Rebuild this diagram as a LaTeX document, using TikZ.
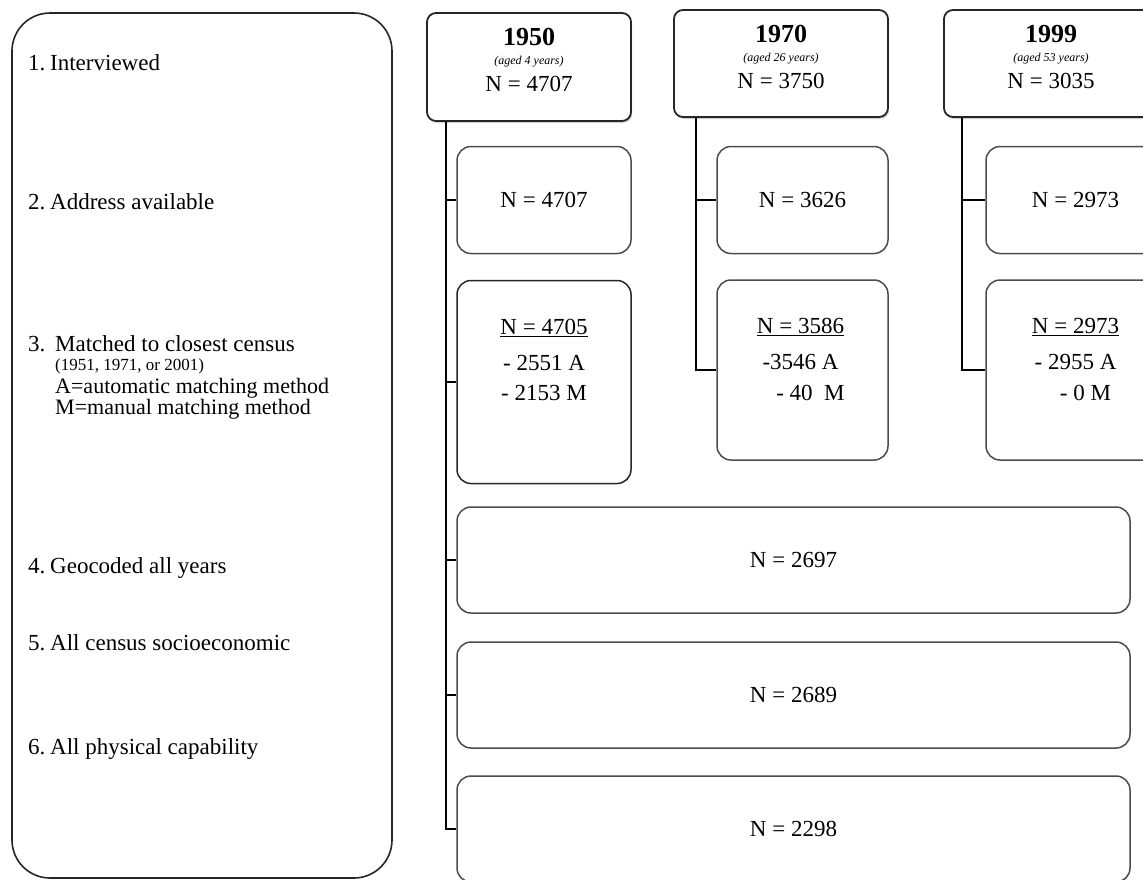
\documentclass[tikz,border=0pt]{standalone}
\usepackage{fontspec}
\setmainfont{Liberation Serif}
\usetikzlibrary{shadows}
\begin{document}
\begin{tikzpicture}[x=1pt,y=1pt,
  panel/.style={draw=black!85, line width=1.6pt, rounded corners=38pt, inner sep=0pt},
  hbox/.style={draw=black!85, fill=white, line width=1.8pt, rounded corners=9pt, inner sep=0pt,
    drop shadow={shadow xshift=1.2pt, shadow yshift=-2pt, fill=black!35}},
  sbox/.style={draw=black!70, fill=white, line width=1.5pt, rounded corners=14pt, inner sep=0pt},
  link/.style={draw=black, line width=1.8pt},
  lab/.style={anchor=west, inner sep=0pt, font=\fontsize{23}{24}\selectfont},
  sublab/.style={anchor=west, inner sep=0pt, font=\fontsize{22}{23}\selectfont},
  tinylab/.style={anchor=west, inner sep=0pt, font=\fontsize{17}{18}\selectfont},
  yr/.style={inner sep=0pt, font=\fontsize{26}{28}\selectfont\bfseries},
  age/.style={inner sep=0pt, font=\fontsize{12}{13}\selectfont\itshape},
  num/.style={inner sep=0pt, font=\fontsize{23}{25}\selectfont},
]
\useasboundingbox (0,0) rectangle (1143,-879);

% left panel
\node[panel, minimum width=380pt, minimum height=865pt] (panel) at (202,-445.5) {};
\node[lab] (l1) at (28,-63) {\makebox[22pt][l]{1.}Interviewed};
\node[lab] (l2) at (28,-202) {\makebox[22pt][l]{2.}Address available};
\node[lab] (l3) at (28,-344) {\makebox[27pt][l]{3.}Matched to closest census};
\node[tinylab] (l3a) at (55,-366) {(1951, 1971, or 2001)};
\node[sublab] (l3b) at (55,-388) {A=automatic matching method};
\node[sublab] (l3c) at (55,-409) {M=manual matching method};
\node[lab] (l4) at (28,-568) {\makebox[22pt][l]{4.}Geocoded all years};
\node[lab] (l5) at (28,-643) {\makebox[22pt][l]{5.}All census socioeconomic};
\node[lab] (l6) at (28,-749) {\makebox[22pt][l]{6.}All physical capability};

% header boxes
\node[hbox, minimum width=204pt, minimum height=108pt] (h1950) at (529,-67) {};
\node[hbox, minimum width=214pt, minimum height=107pt] (h1970) at (781,-63.5) {};
\node[hbox, minimum width=214pt, minimum height=107pt] (h1999) at (1051,-63.5) {};
\foreach \b/\y/\a/\n in {h1950/1950/aged 4 years/4707, h1970/1970/aged 26 years/3750, h1999/1999/aged 53 years/3035}{
  \node[yr]  (\b-y) at ([yshift=-25pt]\b.north) {\y};
  \node[age] (\b-a) at ([yshift=-50pt]\b.north) {(\a)};
  \node[num] (\b-n) at ([yshift=-72pt]\b.north) {N = \n};
}

% row 2
\node[sbox, minimum width=174pt, minimum height=107pt] (r2a) at (544,-200) {};
\node[sbox, minimum width=171pt, minimum height=107pt] (r2b) at (802.5,-200) {};
\node[sbox, minimum width=171pt, minimum height=107pt] (r2c) at (1071.5,-200) {};
\node[num] at (r2a) {N = 4707};
\node[num] at (r2b) {N = 3626};
\node[num] at ([xshift=4pt]r2c.center) {N = 2973};

% row 3
\node[sbox, draw=black!85, minimum width=174pt, minimum height=203pt] (r3a) at (544,-382) {};
\node[sbox, minimum width=171pt, minimum height=180pt] (r3b) at (802.5,-370) {};
\node[sbox, minimum width=171pt, minimum height=180pt] (r3c) at (1071.5,-370) {};
\node[num] (r3a-n) at ([yshift=-48pt]r3a.north) {\underline{N = 4705}};
\node[num] (r3a-a) at ([yshift=-83pt]r3a.north) {- 2551 A};
\node[num] (r3a-m) at ([yshift=-113pt]r3a.north) {- 2153 M};
\node[num] (r3b-n) at ([xshift=-2pt,yshift=-48pt]r3b.north) {\underline{N = 3586}};
\node[num] (r3b-a) at ([xshift=-2pt,yshift=-83pt]r3b.north) {-3546 A};
\node[num] (r3b-m) at ([xshift=8pt,yshift=-114pt]r3b.north) {- 40\enspace M};
\node[num] (r3c-n) at ([xshift=4pt,yshift=-48pt]r3c.north) {\underline{N = 2973}};
\node[num] (r3c-a) at ([xshift=4pt,yshift=-83pt]r3c.north) {- 2955 A};
\node[num] (r3c-m) at ([xshift=14pt,yshift=-114pt]r3c.north) {- 0 M};

% rows 4-6
\node[sbox, minimum width=673pt, minimum height=106pt] (r4) at (793.5,-560) {};
\node[sbox, minimum width=673pt, minimum height=106pt] (r5) at (793.5,-695) {};
\node[sbox, minimum width=673pt, minimum height=106pt] (r6) at (793.5,-829) {};
\node[num] at (r4) {N = 2697};
\node[num] at (r5) {N = 2689};
\node[num] at (r6) {N = 2298};

% connectors
\coordinate (t1) at ([xshift=20pt]h1950.south west);
\coordinate (t2) at ([xshift=23pt]h1970.south west);
\coordinate (t3) at ([xshift=19pt]h1999.south west);
\draw[link] (t1) |- (r6.west);
\draw[link] (t1 |- r2a.west) -- (r2a.west);
\draw[link] (t1 |- r3a.west) -- (r3a.west);
\draw[link] (t1 |- r4.west) -- (r4.west);
\draw[link] (t1 |- r5.west) -- (r5.west);
\draw[link] (t2) |- (r3b.west);
\draw[link] (t2 |- r2b.west) -- (r2b.west);
\draw[link] (t3) |- (r3c.west);
\draw[link] (t3 |- r2c.west) -- (r2c.west);
\end{tikzpicture}
\end{document}
